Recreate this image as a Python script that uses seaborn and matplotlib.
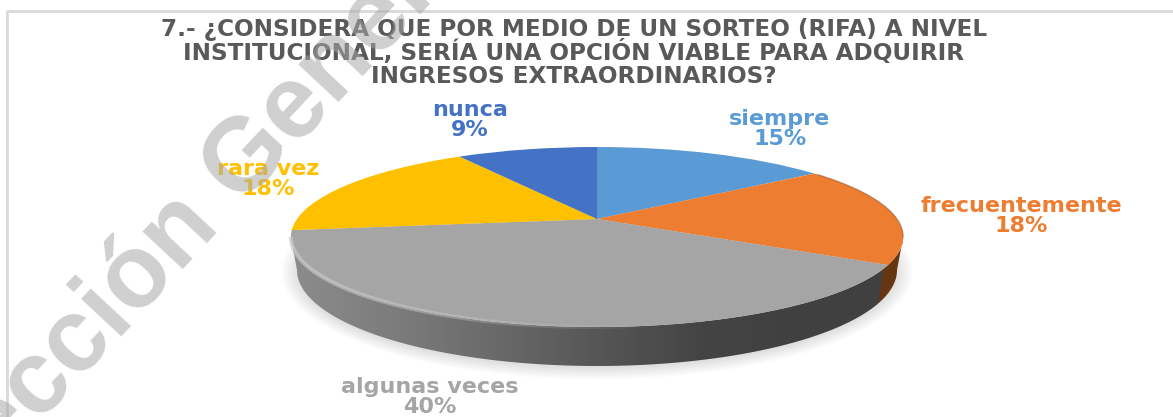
import numpy as np
import pandas as pd
import seaborn as sns
from matplotlib import pyplot as plt
from matplotlib.collections import LineCollection
from matplotlib.patches import Ellipse, Polygon
from matplotlib.transforms import Transform

categories = ['siempre', 'frecuentemente', 'algunas veces', 'rara vez', 'nunca']
values = [15, 18, 40, 18, 9]
colors = ['#5B9BD5', '#ED7D31', '#A5A5A5', '#FFC000', '#4472C4']
title = ('7.- ¿CONSIDERA QUE POR MEDIO DE UN SORTEO (RIFA) A NIVEL\n'
         'INSTITUCIONAL, SERÍA UNA OPCIÓN VIABLE PARA ADQUIRIR\n'
         'INGRESOS EXTRAORDINARIOS?')
watermark = 'Dirección General'

label_pos = {'siempre': (780, 129), 'frecuentemente': (1021, 216),
             'algunas veces': (430, 397), 'rara vez': (268, 179), 'nunca': (470, 120)}

cx, apex_y, k = 597, 219, 0.2


class Perspective(Transform):
    # unit circle of the pie -> tilted disc in pixel coordinates
    input_dims = 2
    output_dims = 2

    def transform_non_affine(self, xy):
        xy = np.asarray(xy, dtype=float)
        d = 1 + k * xy[:, 1]
        return np.column_stack((cx + 300 * xy[:, 0] / d, apex_y - 86.4 * xy[:, 1] / d))


sns.set_theme(style='white')
plt.rcParams['font.family'] = ['DejaVu Sans']

df = pd.DataFrame({'category': categories, 'value': values})
palette = sns.color_palette(colors)

fig = plt.figure(figsize=(11.73, 4.17), dpi=100)
ax = fig.add_axes([0, 0, 1, 1])

wedges, _ = ax.pie(df['value'], colors=palette, startangle=90, counterclock=False,
                   wedgeprops={'linewidth': 0, 'zorder': 4})
persp = Perspective()
for w in wedges:
    w.set_transform(persp + ax.transData)

# rim of the disc, front half
phi = np.linspace(np.pi + np.arcsin(k), 2 * np.pi - np.arcsin(k), 200)
rim = persp.transform(np.column_stack((np.cos(phi), np.sin(phi))))

# soft shadow below the disc
for i in range(8):
    ax.add_patch(Ellipse((cx, 272), 2 * (300 + i * 2.2), 2 * (96 + i * 1.6),
                         color='#808080', alpha=0.03, lw=0, zorder=1))

# side wall
t = np.linspace(0, np.pi, 200)
low = np.column_stack((cx + 300 * np.cos(t), 270 + 96 * np.sin(t)))
wall = Polygon(np.vstack((rim, low)), closed=True, transform=ax.transData, fc='none', ec='none')
ax.add_patch(wall)

xx, yy = np.meshgrid(np.arange(285, 910), np.arange(225, 375))
gray = np.interp(xx, [291, 420, 600, 700, 800], [0x8C, 0x78, 0x56, 0x44, 0x40]) / 255
img = np.dstack((gray, gray, gray))
seam = 883 - (yy - 268) * 5 / 34
brown = np.array([0x66, 0x36, 0x12]) / 255
img[xx > seam] = brown
im = ax.imshow(img, extent=[285, 910, 375, 225], aspect='auto', zorder=3, interpolation='bilinear')
im.set_clip_path(wall)

# bevel highlight on the left and darker edge on the right
segs = np.stack((rim[:-1], rim[1:]), axis=1)
mid = segs[:, :, 0].mean(axis=1)
a = np.clip((650 - mid) / 350, 0, 1) * 0.7
lc = LineCollection(segs, colors=[(0.8, 0.8, 0.8, v) for v in a], linewidths=3, zorder=5)
ax.add_collection(lc)

phi2 = np.linspace(-np.arcsin(k), np.radians(35), 60)
edge = persp.transform(np.column_stack((np.cos(phi2), np.sin(phi2))))
ax.plot(edge[:, 0], edge[:, 1], color='#6b3a16', lw=1, alpha=0.4, zorder=5)

# frame
ax.plot([1173, 7, 7], [11, 11, 417], color='#D9D9D9', lw=2, zorder=2)

ax.text(574, 53, title, ha='center', va='center', fontsize=16.7, fontweight='bold',
        color='#595959', linespacing=0.98, zorder=6)

for name, col in zip(df['category'], colors):
    val = df.loc[df['category'] == name, 'value'].iloc[0]
    x, y = label_pos[name]
    ax.text(x, y, f'{name}\n{val}%', ha='center', va='center', fontsize=16, fontweight='bold',
            color=col, linespacing=1.0, zorder=6)

ax.text(-98, 570, watermark, rotation=47, rotation_mode='anchor', ha='left', va='baseline',
        fontsize=74, family='Liberation Sans', fontweight='bold', color='#A8A8A8', alpha=0.55, zorder=7)

ax.set_aspect('auto')
ax.set_xlim(0, 1173)
ax.set_ylim(417, 0)
ax.axis('off')

plt.savefig('out.png', dpi=100)
